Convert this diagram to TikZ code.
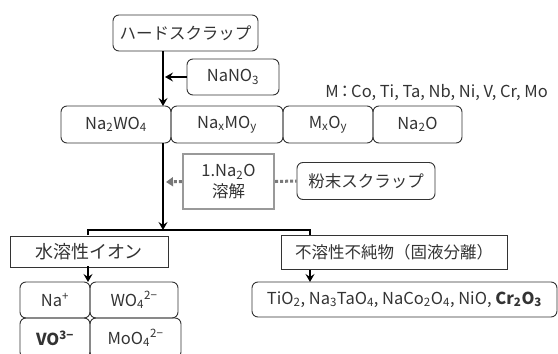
\documentclass[tikz,border=0pt]{standalone}
\usepackage{fontspec}
\setmainfont{Noto Sans CJK JP}
\usetikzlibrary{arrows.meta,positioning}
\definecolor{tx}{HTML}{333333}
\definecolor{gbox}{HTML}{999999}
\definecolor{garr}{HTML}{777777}
\newcommand{\sbs}[1]{\textsubscript{#1}}
\newcommand{\sps}[1]{\textsuperscript{#1}}
\tikzset{
  rbox/.style={draw=tx, line width=0.9pt, rounded corners=6pt, inner sep=0pt, text=tx, font=\fontsize{16.5}{18}\selectfont},
  sbox/.style={draw=tx, line width=0.9pt, inner sep=0pt, text=tx, font=\fontsize{16.5}{18}\selectfont},
  flow/.style={line width=2.2pt, -{Stealth[length=8pt,width=9pt,inset=3pt]}},
  bline/.style={line width=2pt},
}
\begin{document}
\begin{tikzpicture}[x=1pt,y=-1pt]
\useasboundingbox (0,0) rectangle (558,354);
\begin{scope}
\clip (0,0) rectangle (558,354);
% top
\node[rbox, minimum width=145pt, minimum height=36pt] (hard) at (185.5,33) {ハードスクラップ};
\node[rbox, minimum width=92pt, minimum height=36pt] (nano) at (233,77) {NaNO\sbs{3}};
\node[text=tx, font=\fontsize{16.5}{18}\selectfont, anchor=east, inner sep=0pt] (mtext) at (548,92) {M\hspace{-2pt}：\hspace{-2pt}Co, Ti, Ta, Nb, Ni, V, Cr, Mo};
% row 2
\node[rbox, minimum width=110pt, minimum height=37pt] (nawo) at (116,124.5) {Na\sbs{2}WO\sbs{4}};
\node[rbox, minimum width=112pt, minimum height=37pt] (namo) at (227,124.5) {Na\sbs{x}MO\sbs{y}};
\node[rbox, minimum width=90pt, minimum height=37pt] (mxoy) at (328,124.5) {M\sbs{x}O\sbs{y}};
\node[rbox, minimum width=89pt, minimum height=37pt] (nao) at (417.5,124.5) {Na\sbs{2}O};
\coordinate (top) at (163,51);
\coordinate (row) at (163,106);
\draw[flow] (top) -- (row);
\coordinate (nin) at (165,77);
\draw[flow] (nano.west) -- (nin);
% dissolution
\node[draw=gbox, line width=2.4pt, minimum width=91pt, minimum height=55pt, inner sep=0pt, align=center, text=tx, font=\fontsize{16.5}{21}\selectfont] (diss) at (228.5,181.5) {1.Na\sbs{2}O\\溶解};
\node[rbox, minimum width=138pt, minimum height=37pt] (powder) at (366,181) {粉末スクラップ};
\draw[gbox!80!black, line width=3pt, dash pattern=on 3pt off 2pt] (diss.east) -- (powder.west);
\coordinate (din) at (166,182);
\draw[garr, line width=3pt, dash pattern=on 3pt off 2pt, -{Triangle[length=7pt,width=9pt]}] (diss.west) -- (din);
% main arrow
\coordinate (r2b) at (163,143);
\coordinate (br) at (163,230);
\draw[flow] (r2b) -- (br);
% branch
\node[sbox, minimum width=158pt, minimum height=31pt, font=\fontsize{18}{20}\selectfont] (ws) at (89,251.5) {水溶性イオン};
\node[sbox, minimum width=226pt, minimum height=34pt] (ins) at (394,252.5) {不溶性不純物（固液分離）};
\coordinate (wsn) at (88,235);
\coordinate (insn) at (310,235);
\draw[bline] (wsn) |- (br) -| (insn);
% lower
\coordinate (wsa) at (88,266);
\coordinate (wsb) at (88,282);
\draw[flow] (wsa) -- (wsb);
\coordinate (insa) at (310,270);
\coordinate (insb) at (310,282);
\draw[flow] (insa) -- (insb);
\node[rbox, minimum width=70pt, minimum height=36pt] (na) at (55,300) {Na\sps{+}};
\node[rbox, minimum width=88pt, minimum height=36pt] (wo) at (134,300) {WO\sbs{4}\sps{2−}};
\node[rbox, minimum width=70pt, minimum height=40pt] (vo) at (55,338) {\bfseries VO\sps{3−}};
\node[rbox, minimum width=91pt, minimum height=40pt] (mo) at (135.5,338) {MoO\sbs{4}\sps{2−}};
\node[rbox, minimum width=305pt, minimum height=35pt] (tio) at (404.5,299.5) {TiO\sbs{2}, Na\sbs{3}TaO\sbs{4}, NaCo\sbs{2}O\sbs{4}, NiO, \textbf{Cr\sbs{2}O\sbs{3}}};
\end{scope}
\end{tikzpicture}
\end{document}
